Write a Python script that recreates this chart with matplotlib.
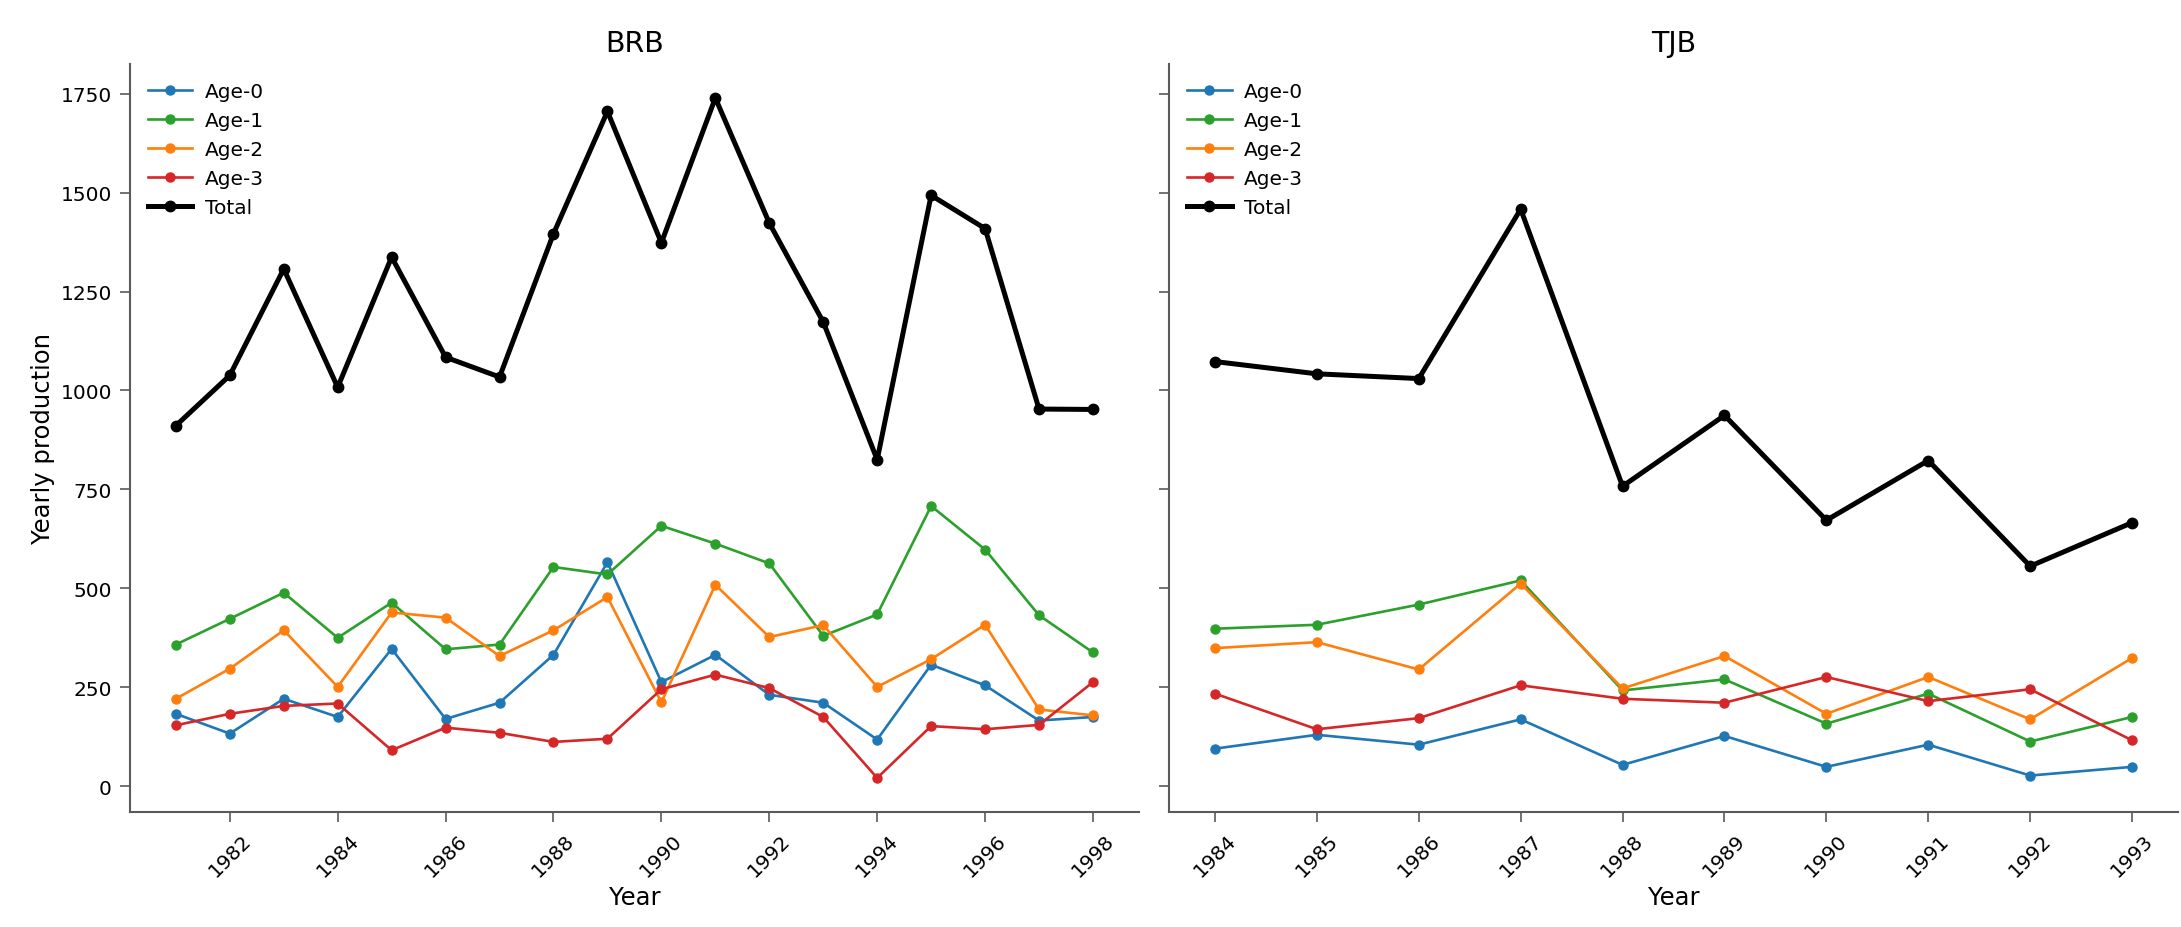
import matplotlib
matplotlib.use('agg')
import matplotlib.pyplot as plt

# BRB site, 1981-1998
years_brb = [1981, 1982, 1983, 1984, 1985, 1986, 1987, 1988, 1989,
             1990, 1991, 1992, 1993, 1994, 1995, 1996, 1997, 1998]
brb_age0 = [183, 133, 221, 175, 347, 170, 211, 332, 566,
            263, 332, 231, 211, 118, 307, 255, 166, 175]
brb_age1 = [358, 423, 489, 375, 464, 346, 358, 554, 535,
            658, 613, 563, 380, 434, 708, 598, 432, 338]
brb_age2 = [221, 297, 394, 251, 439, 426, 329, 394, 478,
            212, 509, 377, 407, 251, 321, 408, 194, 179]
brb_age3 = [154, 183, 203, 209, 91, 148, 135, 112, 120,
            245, 282, 248, 175, 21, 152, 144, 155, 263]
brb_total = [911, 1038, 1307, 1008, 1337, 1084, 1034, 1396, 1705,
             1373, 1739, 1423, 1173, 825, 1493, 1409, 953, 952]

# TJB site, 1984-1993
years_tjb = [1984, 1985, 1986, 1987, 1988, 1989, 1990, 1991, 1992, 1993]
tjb_age0 = [95, 130, 105, 169, 54, 127, 49, 105, 27, 49]
tjb_age1 = [398, 408, 459, 520, 242, 270, 158, 234, 113, 175]
tjb_age2 = [349, 364, 295, 512, 247, 329, 183, 276, 169, 324]
tjb_age3 = [234, 144, 172, 255, 221, 211, 276, 215, 245, 116]
tjb_total = [1073, 1042, 1030, 1458, 758, 937, 672, 823, 556, 666]

age_labels = ['Age-0', 'Age-1', 'Age-2', 'Age-3']
age_colors = ['#1f77b4', '#2ca02c', '#ff7f0e', '#d62728']

plt.rcParams['font.family'] = ['DejaVu Sans']
edge = '#5a5a5a'


def draw_panel(ax, years, ages, total, title, ticks):
    for vals, lab, col in zip(ages, age_labels, age_colors):
        ax.plot(years, vals, '-o', color=col, lw=1.9, ms=6.5, label=lab)
    ax.plot(years, total, '-o', color='black', lw=3.6, ms=7.5, label='Total')
    ax.set_title(title, fontsize=20.5, pad=9)
    ax.set_xlabel('Year', fontsize=17.5)
    ax.set_xticks(ticks)
    ax.tick_params(axis='x', labelrotation=45)
    ax.tick_params(labelsize=14.5, length=7, width=1.2, color=edge, pad=6)
    for s in ['top', 'right']:
        ax.spines[s].set_visible(False)
    for s in ['left', 'bottom']:
        ax.spines[s].set_color(edge)
        ax.spines[s].set_linewidth(1.5)
    ax.legend(loc='upper left', frameon=False, fontsize=14.5,
              handlelength=2.2, handletextpad=0.6,
              labelspacing=0.5, borderaxespad=0.5)


fig, (ax1, ax2) = plt.subplots(1, 2, figsize=(21.81, 9.28), dpi=100, sharey=True)
fig.subplots_adjust(left=0.0596, right=0.9986, bottom=0.124, top=0.93, wspace=0.03)

draw_panel(ax1, years_brb, [brb_age0, brb_age1, brb_age2, brb_age3], brb_total,
           'BRB', list(range(1982, 1999, 2)))
draw_panel(ax2, years_tjb, [tjb_age0, tjb_age1, tjb_age2, tjb_age3], tjb_total,
           'TJB', years_tjb)
ax1.set_ylabel('Yearly production', fontsize=17.5)
ax1.set_yticks([0, 250, 500, 750, 1000, 1250, 1500, 1750])

fig.savefig('out.png', dpi=100)
